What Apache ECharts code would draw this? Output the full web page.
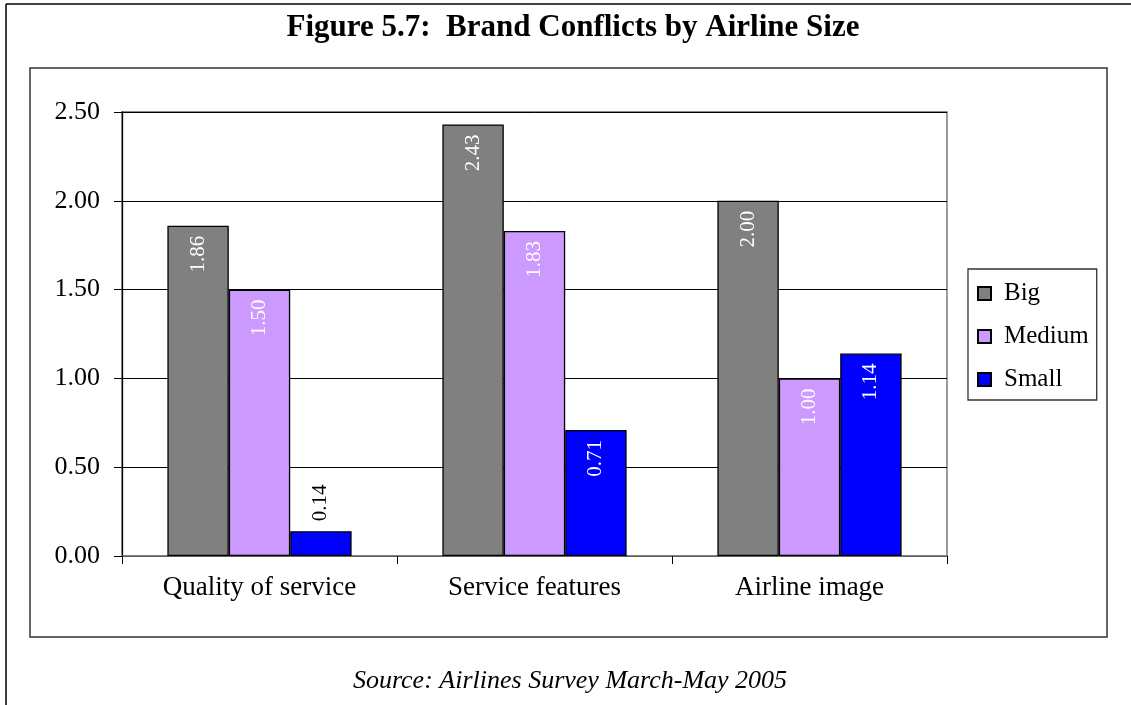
<!DOCTYPE html>
<html>
<head>
<meta charset="utf-8">
<script src="https://cdn.jsdelivr.net/npm/echarts@6/dist/echarts.min.js"></script>
<style>
  html, body { margin: 0; padding: 0; background: #fff; }
  #chart { width: 1131px; height: 705px; }
</style>
</head>
<body>
<div id="chart"></div>
<script>
// Brand conflict scores by airline size
const categories = ['Quality of service', 'Service features', 'Airline image'];
const seriesNames = ['Big', 'Medium', 'Small'];
const big = [1.86, 2.43, 2.00];
const medium = [1.50, 1.83, 1.00];
const small = [0.14, 0.71, 1.14];
const yTicks = [0, 0.5, 1.0, 1.5, 2.0, 2.5];

const FONT = '"Liberation Serif", "Times New Roman", serif';
const colors = ['#808080', '#CC99FF', '#0000FF'];
const values = [big, medium, small];

// Labels sit inside the bar top in white; short bars get a black label above.
function makeData(arr) {
  return arr.map(v => {
    if (v < 0.4) {
      return {
        value: v,
        label: { position: 'top', distance: 10, align: 'left', color: '#000' }
      };
    }
    return v;
  });
}

const series = seriesNames.map((name, i) => ({
  name: name,
  type: 'bar',
  barGap: 0,
  barCategoryGap: '33%',
  data: makeData(values[i]),
  itemStyle: { color: colors[i], borderColor: '#000', borderWidth: 1.3 },
  label: {
    show: true,
    position: 'insideTop',
    distance: 10,
    rotate: 90,
    align: 'right',
    verticalAlign: 'middle',
    color: '#fff',
    fontFamily: FONT,
    fontSize: 21,
    formatter: p => p.value.toFixed(2)
  },
  emphasis: { disabled: true }
}));

const chart = echarts.init(document.getElementById('chart'), null, { renderer: 'canvas' });
chart.setOption({
  animation: false,
  backgroundColor: '#fff',
  textStyle: { fontFamily: FONT },
  graphic: [
    { type: 'line', shape: { x1: 6, y1: 4, x2: 1131, y2: 4 }, style: { stroke: '#000', lineWidth: 1.5 } },
    { type: 'line', shape: { x1: 6, y1: 4, x2: 6, y2: 705 }, style: { stroke: '#000', lineWidth: 1.5 } },
    { type: 'rect', shape: { x: 30, y: 68, width: 1077, height: 569 }, style: { fill: 'none', stroke: '#333', lineWidth: 1.5 }, z: -1 },
    { type: 'text', x: 573, y: 28, style: { text: 'Figure 5.7:  Brand Conflicts by Airline Size', fontFamily: FONT, fontWeight: 'bold', fontSize: 31, fill: '#000', textAlign: 'center', textVerticalAlign: 'middle' } },
    { type: 'text', x: 570, y: 681, style: { text: 'Source: Airlines Survey March-May 2005', fontFamily: FONT, fontStyle: 'italic', fontSize: 26, fill: '#000', textAlign: 'center', textVerticalAlign: 'middle' } }
  ],
  legend: {
    orient: 'vertical',
    left: 968,
    top: 269,
    padding: [12, 8, 8, 9],
    itemGap: 18,
    itemWidth: 13,
    itemHeight: 13,
    icon: 'rect',
    borderColor: '#333',
    borderWidth: 1.3,
    backgroundColor: '#fff',
    data: seriesNames,
    textStyle: { fontFamily: FONT, fontSize: 25, color: '#000', lineHeight: 25, padding: [0, 0, 0, 8] }
  },
  grid: {
    left: 122, right: 184, top: 112, bottom: 149,
    show: true, borderColor: '#666', borderWidth: 1.3, backgroundColor: '#fff'
  },
  xAxis: {
    type: 'category',
    data: categories,
    axisLine: { lineStyle: { color: '#808080', width: 1.5 } },
    axisTick: { show: true, length: 8, inside: false, lineStyle: { color: '#000' } },
    axisLabel: { fontFamily: FONT, fontSize: 27, color: '#000', margin: 18 }
  },
  yAxis: {
    type: 'value',
    min: yTicks[0],
    max: yTicks[yTicks.length - 1],
    interval: 0.5,
    axisLine: { show: true, lineStyle: { color: '#000', width: 1.3 } },
    axisTick: { show: true, length: 8, lineStyle: { color: '#000' } },
    axisLabel: { fontFamily: FONT, fontSize: 26, color: '#000', margin: 22, formatter: v => v.toFixed(2) },
    splitLine: { show: true, lineStyle: { color: '#000', width: 1 } }
  },
  series: series
});
</script>
</body>
</html>
